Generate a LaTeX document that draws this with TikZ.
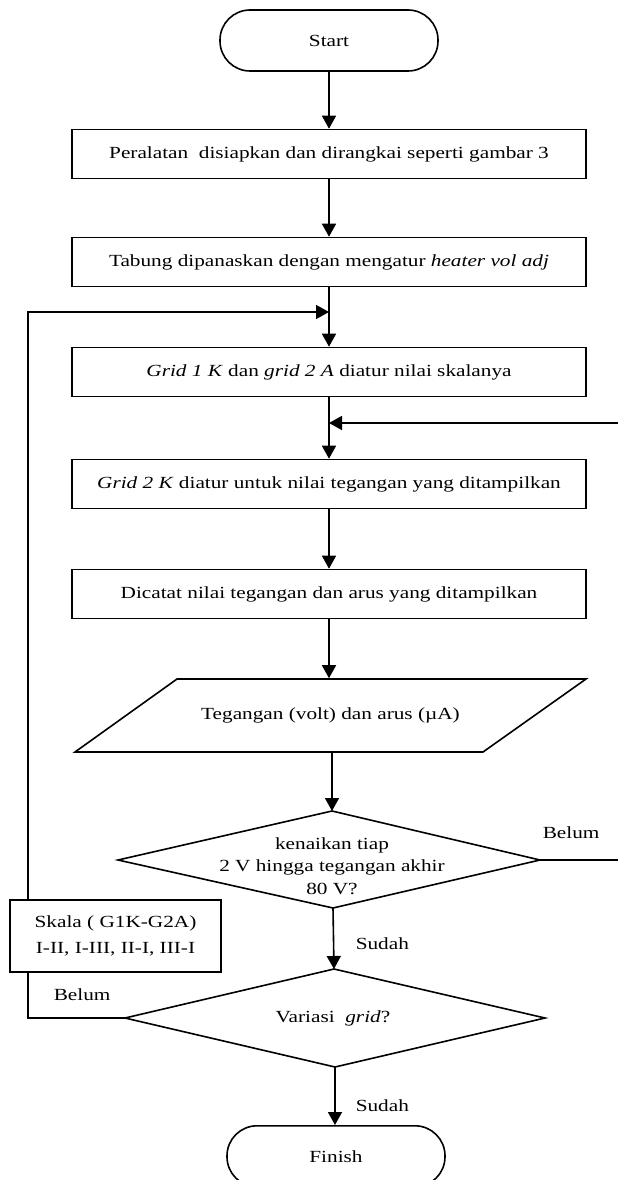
\documentclass[tikz,border=0pt]{standalone}
\usepackage{fontspec}
\setmainfont[FakeStretch=1.25]{Liberation Serif}
\usetikzlibrary{arrows.meta}
\newcommand{\myfont}{\fontsize{17}{22.5}\selectfont}
\begin{document}
\begin{tikzpicture}[x=1pt,y=-1pt,line width=1.6pt,
  box/.style={draw, rectangle, minimum width=514pt, minimum height=49pt, inner sep=0pt, font=\myfont},
  term/.style={draw, rectangle, rounded corners=30pt, minimum width=218pt, minimum height=61pt, inner sep=0pt, font=\myfont},
  lbl/.style={font=\myfont, inner sep=0pt},
  arr/.style={-{Triangle[length=13pt,width=14pt]}}]
\useasboundingbox (0,0) rectangle (618,1180);
% nodes
\node[term] (start) at (329,40.5) {Start};
\node[box] (b1) at (329,154) {Peralatan\ \ disiapkan dan dirangkai seperti gambar 3};
\node[box] (b2) at (329,262) {Tabung dipanaskan dengan mengatur \textit{heater vol adj}};
\node[box] (b3) at (329,372) {\textit{Grid 1 K} dan \textit{grid 2 A} diatur nilai skalanya};
\node[box] (b4) at (329,484) {\textit{Grid 2 K} diatur untuk nilai tegangan yang ditampilkan};
\node[box] (b5) at (329,594) {Dicatat nilai tegangan dan arus yang ditampilkan};
% parallelogram
\draw (177,679) -- (586,679) -- (483,752) -- (75,752) -- cycle;
\node[lbl, minimum width=409pt, minimum height=73pt] (para) at (330.5,715.5) {Tegangan (volt) dan arus (µA)};
% decision 1
\coordinate (d1t) at (332,811);
\coordinate (d1l) at (118,860);
\coordinate (d1r) at (540,860);
\coordinate (d1b) at (333,908);
\draw (d1t) -- (d1r) -- (d1b) -- (d1l) -- cycle;
\node[lbl, align=center] (d1) at (332,866) {kenaikan tiap\\2 V hingga tegangan akhir\\80 V?};
% skala box
\node[draw, rectangle, minimum width=211pt, minimum height=72pt, inner sep=0pt, font=\myfont, align=center] (skala) at (115.5,936) {Skala ( G1K-G2A)\\[3pt]I-II, I-III, II-I, III-I};
% decision 2
\coordinate (d2t) at (334,969);
\coordinate (d2l) at (125,1018);
\coordinate (d2r) at (545,1018);
\coordinate (d2b) at (335,1067);
\draw (d2t) -- (d2r) -- (d2b) -- (d2l) -- cycle;
\node[lbl] (d2) at (333,1018) {Variasi\ \ \textit{grid}?};
% finish
\node[term, anchor=north] (finish) at (336,1125) {Finish};
% labels
\node[lbl, anchor=west] (belumr) at (542,833) {Belum};
\node[lbl, anchor=west] (beluml) at (53,995) {Belum};
\node[lbl, anchor=west] (sudah1) at (355,944) {Sudah};
\node[lbl, anchor=west] (sudah2) at (355,1106) {Sudah};
% connectors
\coordinate (lx) at (28,312);
\coordinate (rx) at (621,423);
\draw[arr] (start.south) -- (b1.north);
\draw[arr] (b1.south) -- (b2.north);
\draw[arr] (b2.south) -- (b3.north);
\draw[arr] (b3.south) -- (b4.north);
\draw[arr] (b4.south) -- (b5.north);
\draw[arr] (b5.south) -- (b5.south |- para.north);
\draw[arr] (para.south -| d1t) -- (d1t);
\draw[arr] (d1b) -- (d2t);
\draw[arr] (d2b) -- (finish.north -| d2b);
% loop from d1 (Belum) back to above b4
\draw (d1r) -- (d1r -| rx) -- (rx);
\draw[arr] (rx) -- (rx -| b3.south);
% loop from d2 (Belum) through skala back to above b3
\draw (d2l) -- (d2l -| lx) -- (skala.south -| lx);
\draw[arr] (skala.north -| lx) -- (lx) -- (lx -| b2.south);
\end{tikzpicture}
\end{document}
